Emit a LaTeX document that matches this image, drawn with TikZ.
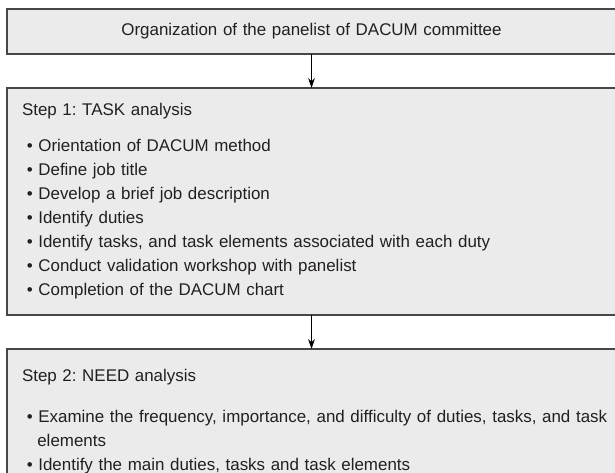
\documentclass[tikz,border=0pt]{standalone}
\usepackage{fontspec}
\setmainfont{Liberation Sans}
\usetikzlibrary{positioning,arrows.meta}

\definecolor{boxfill}{HTML}{EBEBEC}
\definecolor{boxline}{HTML}{474747}
\definecolor{txt}{HTML}{231F20}

\frenchspacing
% one bullet line inside a step box
\newcommand{\itm}[1]{\par\hangindent=11.5pt\hangafter=1\rightskip=-9pt plus 2em\relax\hspace*{3.6pt}\textbullet\ #1}

\begin{document}
\begin{tikzpicture}[x=0.75pt, y=-0.75pt,
	stage/.style={rectangle, draw=boxline, fill=boxfill, line width=1pt, outer sep=0pt, minimum width=456.75pt, text width=434.25pt, inner xsep=11.25pt, text=txt, font=\fontsize{12.7}{18}\selectfont},
	node distance=25.5pt
	]
	\path[use as bounding box, clip] (0,0) rectangle (615,473);

		\node (org) [stage, anchor=north west, minimum height=33.75pt, align=center] at (7,9) {Organization of the panelist of DACUM committee};
		\node (task) [stage, below=of org, minimum height=170.25pt, align=left] {Step 1: TASK analysis\par\vspace{9pt}
			\itm{Orientation of DACUM method}
			\itm{Define job title}
			\itm{Develop a brief job description}
			\itm{Identify duties}
			\itm{Identify tasks, and task elements associated with each duty}
			\itm{Conduct validation workshop with panelist}
			\itm{Completion of the DACUM chart}};
		\node (need) [stage, below=of task, inner ysep=15pt, align=left] {Step 2: NEED analysis\par\vspace{13pt}
			\itm{Examine the frequency, importance, and difficulty of duties, tasks, and task elements}
			\itm{Identify the main duties, tasks and task elements}};

	\draw [-{Stealth[length=7.5pt, width=5pt]}, line width=0.6pt] (org.south) -- (task.north);
	\draw [-{Stealth[length=7.5pt, width=5pt]}, line width=0.6pt] (task.south) -- (need.north);

\end{tikzpicture}
\end{document}
